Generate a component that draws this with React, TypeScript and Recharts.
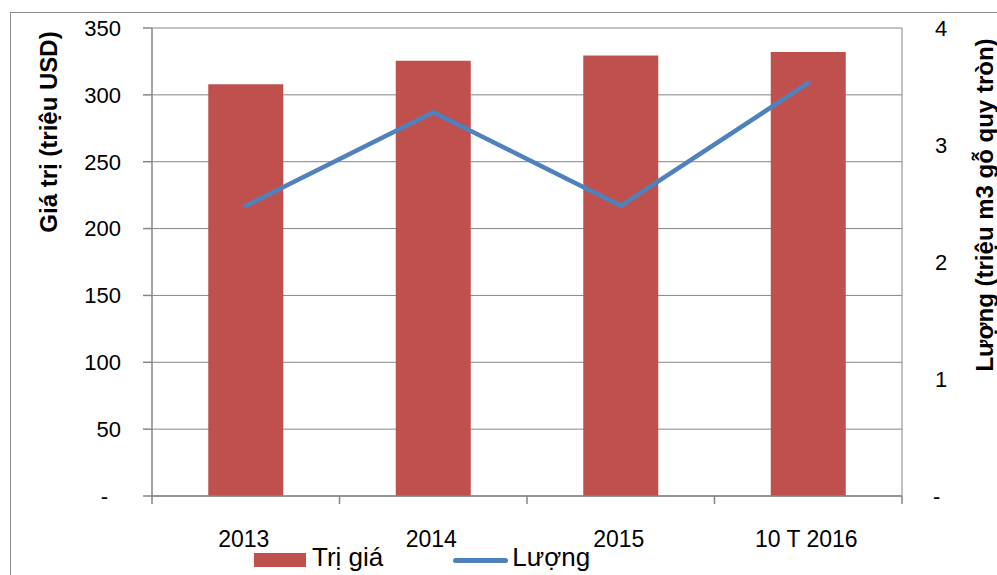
import React from 'react';
import { ComposedChart, Bar, Line, XAxis, YAxis, CartesianGrid, Legend } from 'recharts';

const categories = ['2013', '2014', '2015', '10 T 2016'];
const triGia = [308, 325.5, 329.5, 332];
const luong = [2.48, 3.28, 2.48, 3.53];
const leftTicks = [0, 50, 100, 150, 200, 250, 300, 350];
const rightTicks = [0, 1, 2, 3, 4];
const leftTitle = 'Giá trị (triệu USD)';
const rightTitle = 'Lượng (triệu m3 gỗ quy tròn)';
const barName = 'Trị giá';
const lineName = 'Lượng';

const data = categories.map((c, i) => ({ name: c, triGia: triGia[i], luong: luong[i] }));

const FONT = '"Liberation Sans", Arial, sans-serif';
const AXIS = '#868686';
const RED = '#C0504D';
const BLUE = '#4F81BD';

const XTick = (props: any) => {
  const { x, y, payload, index, visibleTicksCount, width } = props;
  const n = visibleTicksCount || categories.length;
  const half = payload && payload.offset ? payload.offset : width ? width / n / 2 : 0;
  return (
    <g>
      <line x1={x - half} x2={x - half} y1={y} y2={y + 8} stroke={AXIS} strokeWidth={1.5} />
      {index === n - 1 && (
        <line x1={x + half} x2={x + half} y1={y} y2={y + 8} stroke={AXIS} strokeWidth={1.5} />
      )}
      <text x={x - 2} y={y + 51} textAnchor="middle" fontSize={23} fill="#000" fontFamily={FONT}>
        {payload.value}
      </text>
    </g>
  );
};

const LeftTick = (props: any) => {
  const { x, y, payload } = props;
  const zero = payload.value === 0;
  return (
    <text x={zero ? x - 13 : x} y={y} dy="0.36em" textAnchor="end" fontSize={22} fill="#000" fontFamily={FONT}>
      {zero ? '-' : payload.value}
    </text>
  );
};

const RightTick = (props: any) => {
  const { x, y, payload } = props;
  const zero = payload.value === 0;
  return (
    <text x={zero ? x - 2 : x} y={y} dy="0.36em" textAnchor="start" fontSize={22} fill="#000" fontFamily={FONT}>
      {zero ? '-' : payload.value}
    </text>
  );
};

const LeftTitle = (props: any) => {
  const vb = props.viewBox || { x: 0, y: 0 };
  const cx = vb.x + 48;
  const cy = vb.y + 104;
  return (
    <text
      x={cx}
      y={cy}
      transform={`rotate(-90 ${cx} ${cy})`}
      textAnchor="middle"
      dominantBaseline="central"
      fontSize={24}
      fontWeight="bold"
      fill="#000"
      fontFamily={FONT}
    >
      {leftTitle}
    </text>
  );
};

const RightTitle = (props: any) => {
  const vb = props.viewBox || { x: 0, y: 0 };
  const cx = vb.x + 82;
  const cy = vb.y + 177;
  return (
    <text
      x={cx}
      y={cy}
      transform={`rotate(-90 ${cx} ${cy})`}
      textAnchor="middle"
      dominantBaseline="central"
      fontSize={24}
      fontWeight="bold"
      fill="#000"
      fontFamily={FONT}
    >
      {rightTitle}
    </text>
  );
};

const LegendContent = () => (
  <div
    style={{
      height: 30,
      display: 'flex',
      alignItems: 'center',
      paddingLeft: 254,
      fontFamily: FONT,
      fontSize: 26,
      color: '#000',
      lineHeight: '30px',
    }}
  >
    <div style={{ width: 52, height: 14, background: RED, marginRight: 6 }} />
    <span style={{ position: 'relative', top: -3 }}>{barName}</span>
    <div style={{ width: 55, height: 5, background: BLUE, borderRadius: 3, marginLeft: 70, marginRight: 4 }} />
    <span style={{ position: 'relative', top: -3 }}>{lineName}</span>
  </div>
);

export default function App() {
  return (
    <div style={{ position: 'relative', width: 997, height: 575, overflow: 'hidden', background: '#fff', fontFamily: FONT }}>
      <style>{`body{margin:0;}`}</style>
      <div
        style={{
          position: 'absolute',
          left: 10,
          top: 12,
          width: 1100,
          height: 700,
          border: '1px solid #8c8c8c',
          boxSizing: 'border-box',
        }}
      />
      <div style={{ position: 'absolute', left: 0, top: 0 }}>
        <ComposedChart
          width={997}
          height={575}
          data={data}
          margin={{ top: 28, right: 0, bottom: 0, left: 0 }}
          barCategoryGap="30%"
        >
          <CartesianGrid yAxisId="left" vertical={false} stroke={AXIS} strokeWidth={1} />
          <XAxis
            dataKey="name"
            height={49}
            axisLine={{ stroke: AXIS, strokeWidth: 1.5 }}
            tickLine={false}
            tickSize={0}
            tickMargin={0}
            tick={<XTick />}
            interval={0}
          />
          <YAxis
            yAxisId="left"
            orientation="left"
            width={152}
            domain={[0, 350]}
            ticks={leftTicks}
            interval={0}
            axisLine={{ stroke: AXIS, strokeWidth: 1.5 }}
            tickLine={{ stroke: AXIS, strokeWidth: 1.5 }}
            tickSize={9}
            tickMargin={22}
            tick={<LeftTick />}
            label={<LeftTitle />}
          />
          <YAxis
            yAxisId="right"
            orientation="right"
            width={95}
            domain={[0, 4]}
            ticks={rightTicks}
            interval={0}
            axisLine={{ stroke: AXIS, strokeWidth: 1 }}
            tickLine={false}
            tickSize={0}
            tickMargin={33}
            tick={<RightTick />}
            label={<RightTitle />}
          />
          <Legend verticalAlign="bottom" align="left" content={<LegendContent />} />
          <Bar yAxisId="left" dataKey="triGia" name={barName} fill={RED} isAnimationActive={false} />
          <Line
            yAxisId="right"
            type="linear"
            dataKey="luong"
            name={lineName}
            stroke={BLUE}
            strokeWidth={4.5}
            strokeLinecap="round"
            strokeLinejoin="round"
            dot={false}
            activeDot={false}
            isAnimationActive={false}
          />
        </ComposedChart>
      </div>
    </div>
  );
}
